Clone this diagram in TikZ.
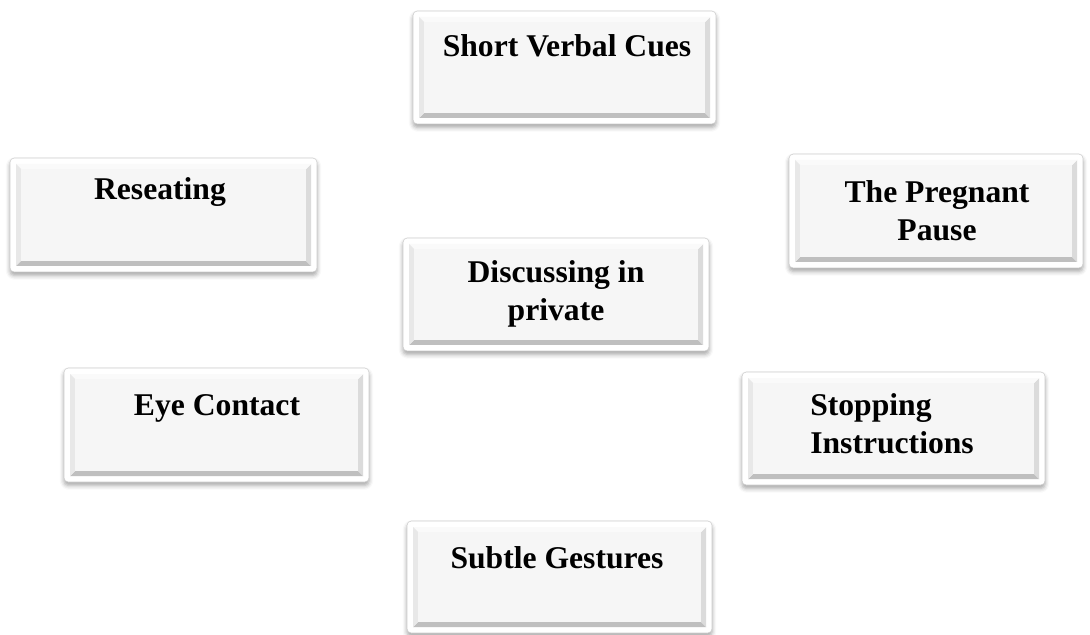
\documentclass[tikz,border=0pt]{standalone}
\usepackage{fontspec}
\setmainfont{Liberation Serif}
\usetikzlibrary{fit,shadows.blur}

\begin{document}
\begin{tikzpicture}[x=0.025cm,y=-0.025cm,
  cuebox/.style={draw=gray!40,fill=white,rounded corners=3pt,inner sep=0pt,
    blur shadow={shadow xshift=0pt,shadow yshift=-2.5pt,shadow blur radius=3pt,shadow opacity=35},
    path picture={
      \path (path picture bounding box.south west) ++(0.15cm,0.15cm) coordinate (bsw) ++(0.13cm,0.13cm) coordinate (fsw);
      \path (path picture bounding box.north east) ++(-0.15cm,-0.15cm) coordinate (bne) ++(-0.13cm,-0.13cm) coordinate (fne);
      \fill[sharp corners,gray!50] (bsw) -- (fsw) -- (fsw -| fne) -- (bsw -| bne) -- cycle;
      \fill[sharp corners,gray!28] (bsw -| bne) -- (fsw -| fne) -- (fne) -- (bne) -- cycle;
      \fill[sharp corners,gray!4] (bne) -- (fne) -- (fne -| fsw) -- (bne -| bsw) -- cycle;
      \fill[sharp corners,gray!18] (bne -| bsw) -- (fne -| fsw) -- (fsw) -- (bsw) -- cycle;
      \fill[sharp corners,gray!7] (fsw) rectangle (fne);
    }},
  cuetext/.style={font=\fontsize{22.5}{27.5}\selectfont\bfseries,inner sep=0pt,align=center}]
\useasboundingbox (0,0) rectangle (1090,635);

% boxes
\node[cuebox,fit={(413,11) (716,124)}] (cues) {};
\node[cuebox,fit={(10,158) (317,272)}] (reseat) {};
\node[cuebox,fit={(789,154) (1083,268)}] (pause) {};
\node[cuebox,fit={(403,238) (709,351)}] (private) {};
\node[cuebox,fit={(64,368) (369,482)}] (eye) {};
\node[cuebox,fit={(742,372) (1045,485)}] (stop) {};
\node[cuebox,fit={(407,521) (712,633)}] (gestures) {};

% labels
\node[cuetext,anchor=base] (cues-t) at (567,57) {Short Verbal Cues};
\node[cuetext,anchor=base] (reseat-t) at (160,200) {Reseating};
\node[cuetext,anchor=north] (pause-t) at (937,180) {The Pregnant\\Pause};
\node[cuetext,anchor=north] (private-t) at (556,260) {Discussing in\\private};
\node[cuetext,anchor=base] (eye-t) at (217,415) {Eye Contact};
\node[cuetext,anchor=north west,align=left] (stop-t) at (810,393) {Stopping\\ Instructions};
\node[cuetext,anchor=base] (gestures-t) at (557,568) {Subtle Gestures};
\end{tikzpicture}
\end{document}
